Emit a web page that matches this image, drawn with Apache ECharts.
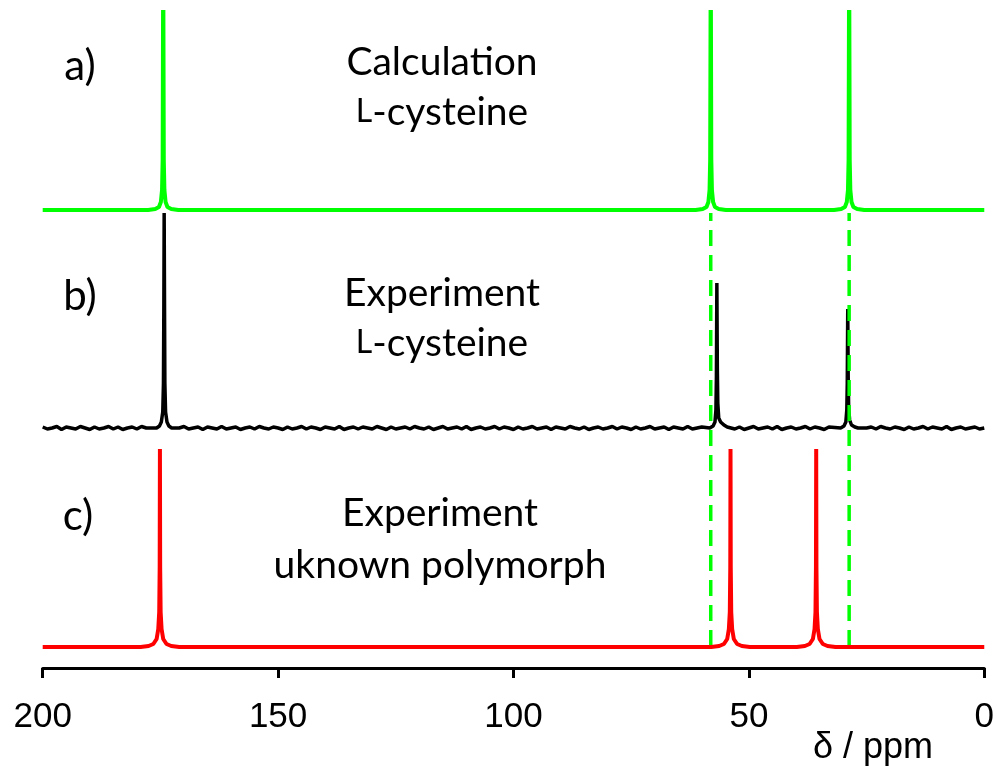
<!DOCTYPE html>
<html>
<head>
<meta charset="utf-8">
<script src="https://cdn.jsdelivr.net/npm/echarts@6/dist/echarts.min.js"></script>
<style>
  html, body { margin: 0; padding: 0; background: #fff; }
  #chart { width: 997px; height: 766px; }
</style>
</head>
<body>
<div id="chart"></div>
<script>
// 13C chemical-shift axis (ppm) ticks
const xTicks = [200, 150, 100, 50, 0];

// a) calculated spectrum of L-cysteine: [ppm, intensity]
const calcPoints = [
  [200, 0], [177.6, 0], [176.1, 1], [175.3, 3], [174.9, 8], [174.65, 20], [174.52, 50],
  [174.4, 260], [174.28, 50], [174.15, 20], [173.9, 8], [173.5, 3], [172.7, 1], [171.2, 0],
  [61.3, 0], [59.8, 1], [59.0, 3], [58.6, 8], [58.35, 20], [58.22, 50],
  [58.1, 260], [57.98, 50], [57.85, 20], [57.6, 8], [57.2, 3], [56.4, 1], [54.9, 0],
  [31.9, 0], [30.4, 1], [29.6, 3], [29.2, 8], [28.95, 20], [28.82, 50],
  [28.7, 260], [28.58, 50], [28.45, 20], [28.2, 8], [27.8, 3], [27.0, 1], [25.5, 0],
  [0, 0]
];

// b) measured spectrum of L-cysteine: baseline noise, one value per ppm from 200 down to 0
const expNoise = [
  1, -1, 0, 1.5, -1.5, 1, 0, -1, 1.5, 0, -1.5, 1, -1, 0, 1.5, -1, 1, -1.5, 0, 1,
  -1, 1.5, 0, -1, 1, -1.5, 0, 1, -1, 0, 1.5, -1, 0, 1, -1.5, 1, 0, -1, 1.5, -1,
  0, 1, -1.5, 0, 1, -1, 1.5, 0, -1, 1, 0, -1.5, 1, -1, 0, 1.5, -1, 1, 0, -1.5,
  1, 0, -1, 1.5, -1.5, 0, 1, -1, 1, 0, -1, 1.5, 0, -1.5, 1, -1, 0, 1, -1, 1.5,
  0, -1, 1, -1.5, 0, 1.5, -1, 0, 1, -1, 1.5, -1.5, 0, 1, -1, 0, 1.5, -1, 1, 0,
  -1.5, 1, -1, 0, 1.5, -1, 0, 1, -1.5, 1, 0, -1, 1.5, 0, -1, 1, -1.5, 0, 1, -1,
  0, 1.5, -1, 1, 0, -1.5, 1, -1, 0, 1.5, -1, 0, 1, -1.5, 1, 0, -1, 1.5, -1, 0,
  1, -1, 1.5, 0, -1.5, 1, 0, -1, 1, -1.5, 0, 1.5, -1, 0, 1, -1, 1.5, -1.5, 0, 1,
  -1, 0, 1.5, -1, 1, 0, -1.5, 1, -1, 0, 1.5, 0, -1, 1, -1.5, 0, 1, -1, 1.5, 0,
  -1, 1, 0, -1.5, 1, -1, 0, 1.5, -1, 1, 0, -1, 1.5, -1.5, 0, 1, -1, 0, 1, -1,
  0
];
// b) measured peaks: [ppm, intensity above baseline]
const expPeaks = [
  [175.8, 0], [175.2, 2], [174.8, 6], [174.5, 16], [174.35, 45], [174.27, 120],
  [174.2, 215], [174.12, 120], [174.05, 45], [173.9, 16], [173.6, 6], [173.2, 2], [172.6, 0],
  [58.3, 0], [57.6, 2], [57.2, 6], [57.0, 18], [56.9, 50],
  [56.8, 145], [56.7, 60], [56.6, 25], [56.4, 10], [56.0, 6], [55.3, 3], [54.6, 1], [53.8, 0],
  [30.5, 0], [29.8, 2], [29.4, 6], [29.2, 18], [29.1, 45],
  [29.0, 119], [28.9, 50], [28.8, 20], [28.6, 8], [28.2, 3], [27.5, 1], [26.8, 0]
];

// c) measured spectrum of the unknown polymorph: [ppm, intensity]
const polyPoints = [
  [200, 0], [179.2, 0], [177.5, 1], [176.5, 3], [175.8, 8], [175.45, 18], [175.25, 35], [175.15, 80],
  [175.1, 198], [175.05, 80], [174.95, 35], [174.75, 18], [174.4, 8], [173.7, 3], [172.7, 1], [171.0, 0],
  [58.0, 0], [56.3, 1], [55.3, 3], [54.6, 8], [54.25, 18], [54.05, 35], [53.95, 80],
  [53.9, 198], [53.85, 80], [53.75, 35], [53.55, 18], [53.2, 8], [52.5, 3], [51.5, 1], [49.8, 0],
  [39.8, 0], [38.1, 1], [37.1, 3], [36.4, 8], [36.05, 18], [35.85, 35], [35.75, 80],
  [35.7, 198], [35.65, 80], [35.55, 35], [35.35, 18], [35.0, 8], [34.3, 3], [33.3, 1], [31.6, 0],
  [0, 0]
];

// calculated shifts used as guides
const guideShifts = [58.1, 28.7];

// vertical stacking of the three traces
const offsetCalc = 458, offsetExp = 240, offsetPoly = 21;

function shift(points, off) {
  return points.map(p => [p[0], p[1] + off]);
}

// merge measured peaks into the noisy baseline
const expData = (function () {
  const pts = [];
  const centres = [174.2, 56.8, 29.0];
  expNoise.forEach((v, i) => {
    const ppm = 200 - i;
    if (centres.every(c => Math.abs(ppm - c) > 3)) pts.push([ppm, v]);
  });
  expPeaks.forEach(p => pts.push([p[0], p[1]]));
  pts.sort((a, b) => b[0] - a[0]);
  return shift(pts, offsetExp);
})();

const guideSeries = guideShifts.map(s => ({
  type: 'line',
  data: [[s, offsetPoly + 1], [s, offsetCalc - 3]],
  symbol: 'none',
  silent: true,
  z: 3,
  lineStyle: { color: '#00ff00', width: 3.5, type: [16, 9] }
}));

const chart = echarts.init(document.getElementById('chart'), null, { renderer: 'canvas' });

const textFont = 'Lato, "Open Sans", sans-serif';
function label(x, y, text, size) {
  return {
    type: 'text', x: x, y: y,
    style: {
      text: text, fill: '#000', font: size + 'px ' + textFont,
      textAlign: 'center', textVerticalAlign: 'middle'
    }
  };
}
function lcys(x, y) {
  return {
    type: 'text', x: x, y: y,
    style: {
      text: '{s|L}-cysteine', fill: '#000', fontSize: 39, fontFamily: textFont,
      textAlign: 'center', textVerticalAlign: 'middle',
      rich: { s: { fontSize: 32, fontFamily: textFont, fill: '#000' } }
    }
  };
}

chart.setOption({
  animation: false,
  backgroundColor: '#fff',
  grid: { left: 42.7, right: 11.3, top: 12, bottom: 98 },
  xAxis: {
    type: 'value', inverse: true, min: 0, max: 200, interval: 50,
    axisLine: { show: true, lineStyle: { color: '#000', width: 3 } },
    axisTick: { show: true, inside: false, length: 10, lineStyle: { color: '#000', width: 3 } },
    axisLabel: {
      margin: 32, color: '#000', fontSize: 35, fontFamily: '"Liberation Sans", Arial, sans-serif',
      formatter: v => (xTicks.includes(v) ? String(v) : '')
    },
    splitLine: { show: false }
  },
  yAxis: { type: 'value', min: 0, max: 656, show: false },
  series: [
    {
      type: 'line', data: shift(calcPoints, offsetCalc), symbol: 'none', z: 2,
      lineStyle: { color: '#00ff00', width: 4, join: 'bevel' }
    },
    {
      type: 'line', data: expData, symbol: 'none', z: 2,
      lineStyle: { color: '#000', width: 3.5, join: 'bevel' }
    },
    ...guideSeries,
    {
      type: 'line', data: shift(polyPoints, offsetPoly), symbol: 'none', z: 4,
      lineStyle: { color: '#ff0000', width: 4, join: 'bevel' }
    }
  ],
  graphic: [
    label(80, 66, 'a)', 42),
    label(80, 296, 'b)', 42),
    label(78, 516, 'c)', 42),
    label(442, 62, 'Calculation', 39),
    lcys(442, 112),
    label(442, 293, 'Experiment', 39),
    lcys(442, 343),
    label(440, 513, 'Experiment', 39),
    label(440, 565, 'uknown polymorph', 39),
    {
      type: 'text', x: 873, y: 748,
      style: {
        text: 'δ / ppm', fill: '#000', font: '36px "Liberation Sans", Arial, sans-serif',
        textAlign: 'center', textVerticalAlign: 'middle'
      }
    }
  ]
});
</script>
</body>
</html>
